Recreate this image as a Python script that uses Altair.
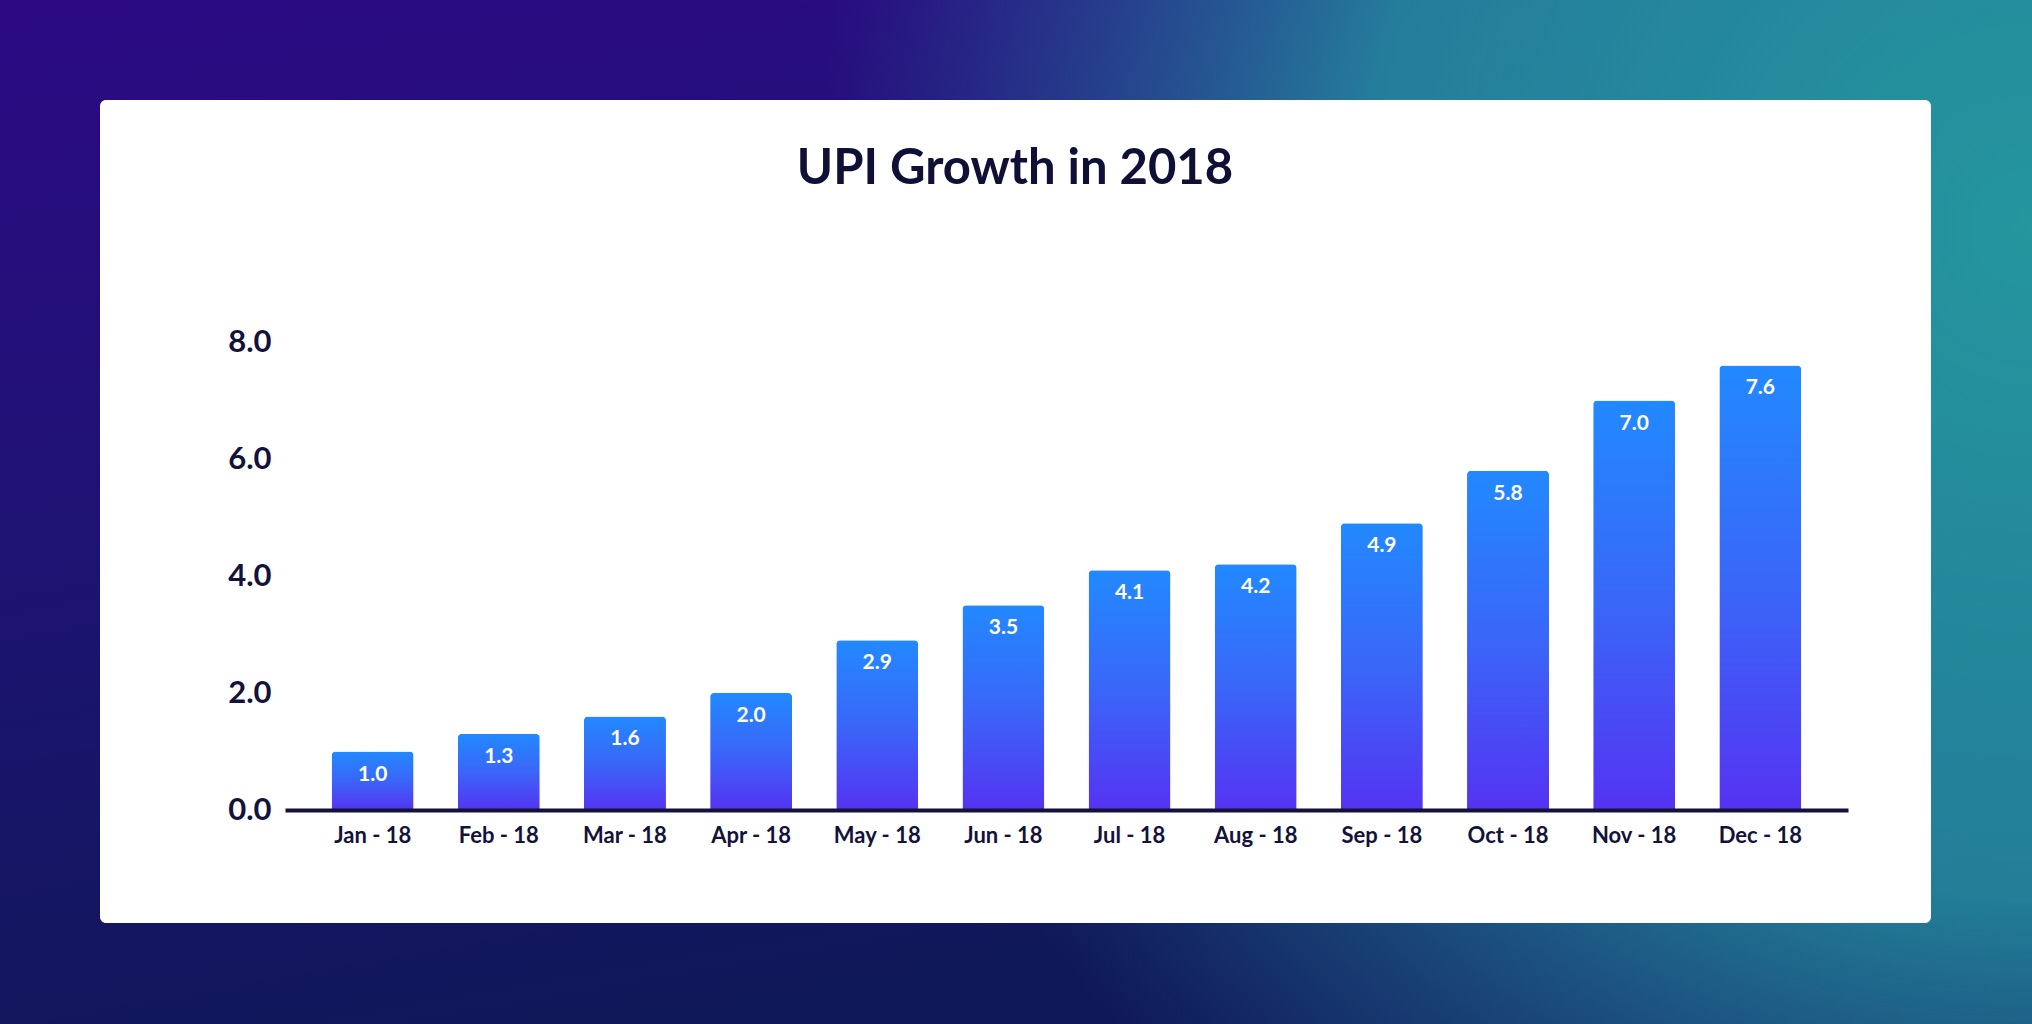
import altair as alt
import pandas as pd

months = ["Jan - 18", "Feb - 18", "Mar - 18", "Apr - 18", "May - 18", "Jun - 18",
          "Jul - 18", "Aug - 18", "Sep - 18", "Oct - 18", "Nov - 18", "Dec - 18"]
values = [1.0, 1.3, 1.6, 2.0, 2.9, 3.5, 4.1, 4.2, 4.9, 5.8, 7.0, 7.6]
y_ticks = [0, 2, 4, 6, 8]
title_text = "UPI Growth in 2018"

df = pd.DataFrame({"month": months, "value": values})
one = pd.DataFrame({"k": [0]})

W, H = 1563, 468
PL, PT = 285, 342
TOTAL_W, TOTAL_H = 2032, 1024
FONT = "Lato"
DARK = "#13123A"

# background (decoration)
bg_base = alt.Chart(one).mark_rect(
    color=alt.LinearGradient(
        gradient="linear", x1=0, y1=0, x2=0.35, y2=1,
        stops=[alt.GradientStop(color="#2C0A84", offset=0),
               alt.GradientStop(color="#1D1372", offset=0.5),
               alt.GradientStop(color="#0F1858", offset=1)])
).encode(x=alt.value(-PL), x2=alt.value(TOTAL_W - PL),
         y=alt.value(-PT), y2=alt.value(TOTAL_H - PT))

bg_glow = alt.Chart(one).mark_rect(
    color=alt.RadialGradient(
        gradient="radial", x1=1.0, y1=0.36, x2=1.0, y2=0.36, r1=0, r2=0.6,
        stops=[alt.GradientStop(color="rgba(36,150,158,1)", offset=0),
               alt.GradientStop(color="rgba(37,140,160,0.88)", offset=0.55),
               alt.GradientStop(color="rgba(40,110,160,0)", offset=1)])
).encode(x=alt.value(-PL), x2=alt.value(TOTAL_W - PL),
         y=alt.value(-PT), y2=alt.value(TOTAL_H - PT))

card = alt.Chart(one).mark_rect(color="white", cornerRadius=6).encode(
    x=alt.value(100 - PL), x2=alt.value(1931 - PL),
    y=alt.value(100 - PT), y2=alt.value(923 - PT))

title = alt.Chart(one).mark_text(
    text=title_text, font=FONT, fontWeight="bold", fontSize=49,
    color="#0F1035", align="center", baseline="middle"
).encode(x=alt.value(1015 - PL), y=alt.value(169 - PT))

x_enc = alt.X("month:N", sort=months,
              scale=alt.Scale(paddingInner=0.35, paddingOuter=0.37),
              axis=alt.Axis(title=None, labelAngle=0, ticks=False,
                            domainColor=DARK, domainWidth=4, zindex=2,
                            labelFont=FONT, labelFontWeight="bold",
                            labelFontSize=22, labelColor=DARK,
                            labelPadding=15))
y_enc = alt.Y("value:Q", scale=alt.Scale(domain=[0, 8], nice=False),
              axis=alt.Axis(title=None, values=y_ticks, format=".1f",
                            domain=False, ticks=False, grid=False, zindex=2,
                            labelFont=FONT, labelFontWeight="bold",
                            labelFontSize=31, labelColor=DARK,
                            labelPadding=14))

bars = alt.Chart(df).mark_bar(
    cornerRadiusTopLeft=4, cornerRadiusTopRight=4,
    color=alt.LinearGradient(
        gradient="linear", x1=0, y1=0, x2=0, y2=1,
        stops=[alt.GradientStop(color="#2289FF", offset=0),
               alt.GradientStop(color="#3A66F8", offset=0.5),
               alt.GradientStop(color="#5533F2", offset=1)])
).encode(x=x_enc, y=y_enc)

labels = alt.Chart(df).mark_text(
    font=FONT, fontWeight="bold", fontSize=21, color="white",
    baseline="middle", align="center", dy=23
).encode(x=alt.X("month:N", sort=months), y="value:Q",
         text=alt.Text("value:Q", format=".1f"))

chart = alt.layer(bg_base, bg_glow, card, title, bars, labels).properties(
    width=W, height=H,
    autosize=alt.AutoSizeParams(type="none"),
    padding={"left": PL, "top": PT, "right": TOTAL_W - PL - W,
             "bottom": TOTAL_H - PT - H},
    background="#1A1560",
).configure_view(stroke=None)

chart.save("out.html", embed_options={"renderer": "svg", "actions": False})
